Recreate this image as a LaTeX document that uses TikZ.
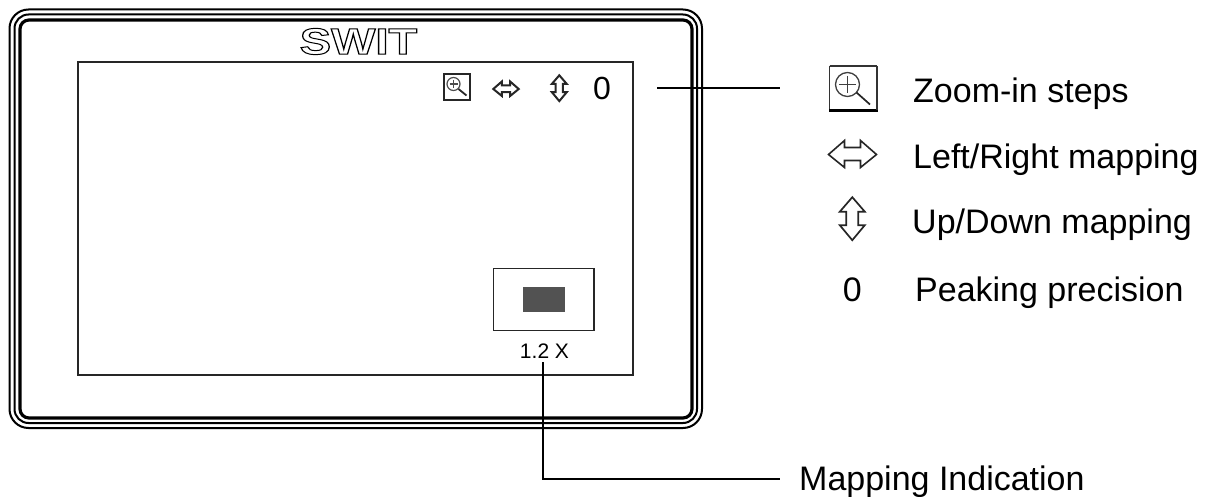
\documentclass[tikz,border=0pt]{standalone}
\usepackage{fontspec}
\setmainfont{Liberation Sans}
\newcommand{\fs}[1]{\fontsize{#1}{#1}\selectfont}
\tikzset{
  label text/.style={anchor=base west,inner sep=0pt,font=\fs{34}},
  line1/.style={draw=black,line width=1.8pt},
  glyph/.style={draw=black!85,line width=#1,line join=miter},
  glyph/.default=1.8pt
}
\newcommand{\lrarrow}[4]{% cx cy scale width
  \draw[glyph=#4] (#1,#2)
   ++(-24*#3,0) -- ++(16*#3,-14*#3) -- ++(0,7*#3) -- ++(16*#3,0) -- ++(0,-7*#3)
   -- ++(16*#3,14*#3) -- ++(-16*#3,13*#3) -- ++(0,-7*#3) -- ++(-16*#3,0) -- ++(0,7*#3) -- cycle;}
\newcommand{\udarrow}[4]{%
  \draw[glyph=#4] (#1,#2)
   ++(0,-21.5*#3) -- ++(12.5*#3,14.5*#3) -- ++(-6.5*#3,0) -- ++(0,13.5*#3) -- ++(6.5*#3,0)
   -- ++(-12.5*#3,15*#3) -- ++(-12.5*#3,-15*#3) -- ++(6.5*#3,0) -- ++(0,-13.5*#3) -- ++(-6.5*#3,0) -- cycle;}
\begin{document}
\begin{tikzpicture}[x=1pt,y=-1pt]
\useasboundingbox (0,0) rectangle (1208,497);
% housing
\draw[line width=2pt,rounded corners=19pt] (9.5,9.5) rectangle (702,428);
\draw[line width=2pt,rounded corners=14pt] (14.5,14.5) rectangle (697,423);
\draw[line width=3.2pt,rounded corners=9pt] (20,20) rectangle (692,418);
% brand
\node[inner sep=0pt,xscale=1.27,font=\fs{37}\bfseries] (brand) at (358.5,41.5)
  {\special{pdf:code 1 Tr 1 w}SWIT\special{pdf:code 0 Tr}};
% screen
\draw[line1,draw=black!85] (78,62) rectangle (633,375);
% small icons
\draw[line width=2pt,draw=black!85] (443.5,74) rectangle (470,100);
\draw[line width=1.2pt,draw=black!70] (453.5,84) circle (6.5);
\draw[line width=1.2pt,draw=black!70] (449.5,84) -- (457.5,84) (453.5,80) -- (453.5,88);
\draw[line width=1.8pt,draw=black!85] (458.5,89) -- (466.5,95.5);
\lrarrow{506}{89}{0.53}{2pt}
\udarrow{559.3}{88.2}{0.6}{2pt}
\node[label text,font=\fs{32}] (zero) at (593,99.5) {0};
% top callout
\coordinate (calloutA) at (657,88);
\coordinate (calloutB) at (780,88);
\draw[line1] (calloutA) -- (calloutB);
% legend
\draw[line width=1.2pt,draw=black!80] (829.5,66) -- (877,66) (829.5,66) -- (829.5,110.5);
\draw[line width=2.2pt] (829,110.5) -- (877.5,110.5);
\draw[line width=1.4pt,draw=black!80] (877,66) -- (877,110.5);
\draw[line width=1.3pt,draw=black!75] (847.5,84.5) circle (12);
\draw[line width=1.3pt,draw=black!75] (839,84.5) -- (856,84.5) (847.5,76) -- (847.5,93);
\draw[line width=1.7pt,draw=black!85] (856.5,92.5) -- (870,104.5);
\lrarrow{852.5}{154.5}{1}{1.6pt}
\udarrow{852.3}{218.7}{1}{1.7pt}
\node[label text] (t1) at (913,102.5) {Zoom-in steps};
\node[label text] (t2) at (913,168.5) {Left/Right mapping};
\node[label text] (t3) at (912,233.5) {Up/Down mapping};
\node[label text,anchor=base] (t0) at (852.3,301.5) {0};
\node[label text] (t4) at (915,301.5) {Peaking precision};
% thumbnail
\draw[line1,draw=black!85] (493.5,268.5) rectangle (594,330.5);
\fill[fill=black!68] (522.7,286.7) rectangle (565,312.3);
\node[inner sep=0pt,anchor=base,font=\fs{21}] (scale) at (544.5,358) {1.2 X};
% bottom callout
\node[label text] (t5) at (799,490.5) {Mapping Indication};
\coordinate (mapA) at (543,362);
\coordinate (mapB) at (543,479);
\coordinate (mapC) at (780,479);
\draw[line1] (mapA) -- (mapB) -- (mapC);
\end{tikzpicture}
\end{document}
